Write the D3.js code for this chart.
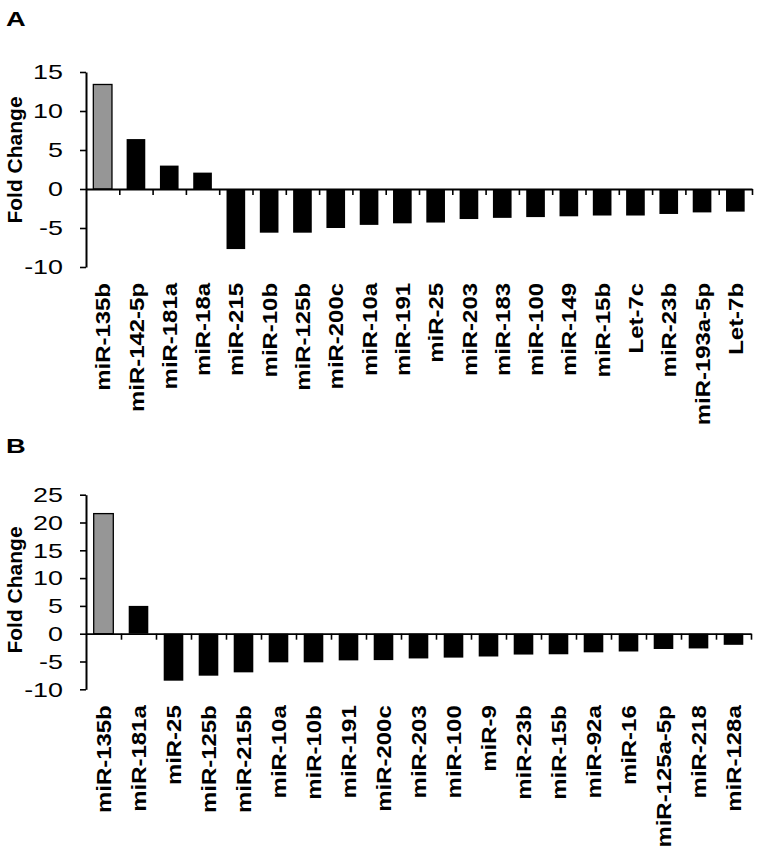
<!DOCTYPE html>
<html>
<head>
<meta charset="utf-8">
<script src="https://cdn.jsdelivr.net/npm/d3@7/dist/d3.min.js"></script>
<style>
  html, body { margin: 0; padding: 0; background: #fff; }
  svg { display: block; }
  text { font-family: "Liberation Sans", Arial, Helvetica, sans-serif; fill: #000; }
</style>
</head>
<body>
<div id="chart"></div>
<script>
// ---- Data ----
const categoriesA = ["miR-135b","miR-142-5p","miR-181a","miR-18a","miR-215","miR-10b","miR-125b","miR-200c","miR-10a","miR-191","miR-25","miR-203","miR-183","miR-100","miR-149","miR-15b","Let-7c","miR-23b","miR-193a-5p","Let-7b"];
const valuesA = [13.4, 6.4, 3.0, 2.1, -7.7, -5.6, -5.6, -5.0, -4.6, -4.4, -4.3, -3.85, -3.7, -3.6, -3.5, -3.4, -3.4, -3.2, -3.0, -2.9];
const ticksA = [-10, -5, 0, 5, 10, 15];

const categoriesB = ["miR-135b","miR-181a","miR-25","miR-125b","miR-215b","miR-10a","miR-10b","miR-191","miR-200c","miR-203","miR-100","miR-9","miR-23b","miR-15b","miR-92a","miR-16","miR-125a-5p","miR-218","miR-128a"];
const valuesB = [21.6, 5.0, -8.45, -7.55, -6.95, -5.15, -5.15, -4.8, -4.75, -4.45, -4.3, -4.1, -3.75, -3.7, -3.35, -3.2, -2.75, -2.65, -2.0];
const ticksB = [-10, -5, 0, 5, 10, 15, 20, 25];

const panelLetters = ["A", "B"];
const axisTitle = "Fold Change";

// ---- Layout ----
const W = 757, H = 847;
const svg = d3.select("#chart").append("svg").attr("width", W).attr("height", H);

const panels = [
  { letter: panelLetters[0], cats: categoriesA, vals: valuesA, ticks: ticksA,
    top: 72, bottom: 267, left: 86, right: 752, titleY: 160, letterY: 26 },
  { letter: panelLetters[1], cats: categoriesB, vals: valuesB, ticks: ticksB,
    top: 494.7, bottom: 689.3, left: 86, right: 751, titleY: 590, letterY: 453 }
];

panels.forEach(p => {
  const g = svg.append("g");
  const n = p.cats.length;

  const y = d3.scaleLinear()
    .domain([d3.min(p.ticks), d3.max(p.ticks)])
    .range([p.bottom, p.top]);

  const xb = d3.scaleBand()
    .domain(p.cats)
    .range([p.left, p.right])
    .paddingInner(0.44)
    .paddingOuter(0.22);

  const xl = d3.scaleLinear().domain([0, n]).range([p.left, p.right]);

  // bars
  g.selectAll("rect.bar")
    .data(p.cats.map((c, i) => ({ c, v: p.vals[i], i })))
    .join("rect")
    .attr("class", "bar")
    .attr("x", d => xb(d.c))
    .attr("width", xb.bandwidth())
    .attr("y", d => y(Math.max(0, d.v)))
    .attr("height", d => Math.abs(y(d.v) - y(0)))
    .attr("fill", d => d.i === 0 ? "#969696" : "#000")
    .attr("stroke", "#000")
    .attr("stroke-width", d => d.i === 0 ? 1.3 : 0);

  // x axis at zero with ticks between categories
  const xAxis = d3.axisBottom(xl)
    .tickValues(d3.range(1, n + 1))
    .tickSize(6)
    .tickSizeOuter(0)
    .tickFormat("");
  const xg = g.append("g").attr("transform", `translate(0,${y(0)})`).call(xAxis);
  xg.select(".domain").attr("stroke", "#000").attr("stroke-width", 1.8);
  xg.selectAll(".tick line").attr("stroke", "#000").attr("stroke-width", 1.6);

  // y axis
  const yAxis = d3.axisLeft(y)
    .tickValues(p.ticks)
    .tickSize(6)
    .tickSizeOuter(0)
    .tickFormat(d => String(d));
  const yg = g.append("g").attr("transform", `translate(${p.left},0)`).call(yAxis);
  yg.select(".domain").attr("stroke", "#000").attr("stroke-width", 2);
  yg.selectAll(".tick line").attr("stroke", "#000").attr("stroke-width", 1.6);
  yg.selectAll(".tick text")
    .attr("font-size", 21)
    .attr("font-family", "'Liberation Sans', Arial, sans-serif")
    .attr("fill", "#000")
    .attr("x", -23 / 1.28)
    .attr("transform", "scale(1.28,1)");

  // category labels (rotated)
  g.selectAll("text.cat")
    .data(p.cats)
    .join("text")
    .attr("class", "cat")
    .attr("transform", d => `translate(${xb(d) + xb.bandwidth() / 2},${p.bottom + 16}) rotate(-90) scale(1.14,1)`)
    .attr("text-anchor", "end")
    .attr("dy", "0.36em")
    .attr("font-size", 21)
    .attr("font-weight", "bold")
    .text(d => d);

  // axis title
  g.append("text")
    .attr("transform", `translate(22,${p.titleY}) rotate(-90)`)
    .attr("text-anchor", "middle")
    .attr("font-size", 21)
    .attr("font-weight", "bold")
    .text(axisTitle);

  // panel letter
  g.append("text")
    .attr("transform", `translate(6,${p.letterY}) scale(1.3,1)`)
    .attr("font-size", 21)
    .attr("font-weight", "bold")
    .text(p.letter);
});
</script>
</body>
</html>
